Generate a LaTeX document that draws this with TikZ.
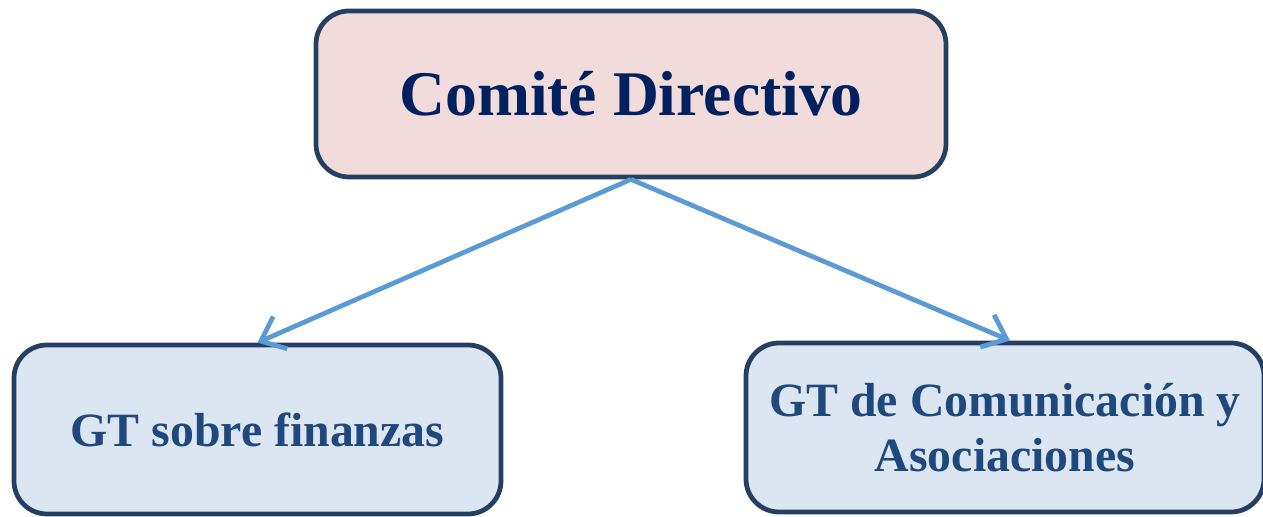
\documentclass[tikz,border=0pt]{standalone}
\usepackage{fontspec}
\setmainfont{Liberation Serif}
\usepackage{tikz}
\usetikzlibrary{arrows.meta}
\definecolor{navy}{HTML}{243F60}
\definecolor{titlec}{HTML}{002060}
\definecolor{subc}{HTML}{1F497D}
\definecolor{pinkf}{HTML}{F2DCDB}
\definecolor{bluef}{HTML}{DCE6F2}
\definecolor{arrc}{HTML}{5B9BD5}

\begin{document}
\begin{tikzpicture}[
		box/.style={draw=navy, line width=1.35pt, rounded corners=0.33cm, align=center, font=\bfseries},
		top/.style={box, fill=pinkf, text=titlec, minimum width=6.3cm, minimum height=1.66cm, font=\fontsize{18.1}{22}\selectfont\bfseries},
		sub/.style={box, fill=bluef, text=subc, minimum height=1.69cm, font=\fontsize{13.6}{15.8}\selectfont\bfseries},
		arr/.style={draw=arrc, line width=1.35pt, -{Straight Barb[length=6pt,width=10pt]}}
	]
		\useasboundingbox (0,0) rectangle (12.63,5.17);
		\node[top] (cdir) at (6.31,4.23) {Comité Directivo};
		\node[sub, minimum width=4.87cm] (gtfin) at (2.575,0.875) {GT sobre finanzas};
		\node[sub, minimum width=5.18cm] (gtcom) at (10.05,0.895) {GT de Comunicación y\\Asociaciones};
		\draw[arr] (cdir.south) -- (gtfin.north);
		\draw[arr] (cdir.south) -- ([xshift=0.05cm]gtcom.north);
	\end{tikzpicture}
\end{document}
